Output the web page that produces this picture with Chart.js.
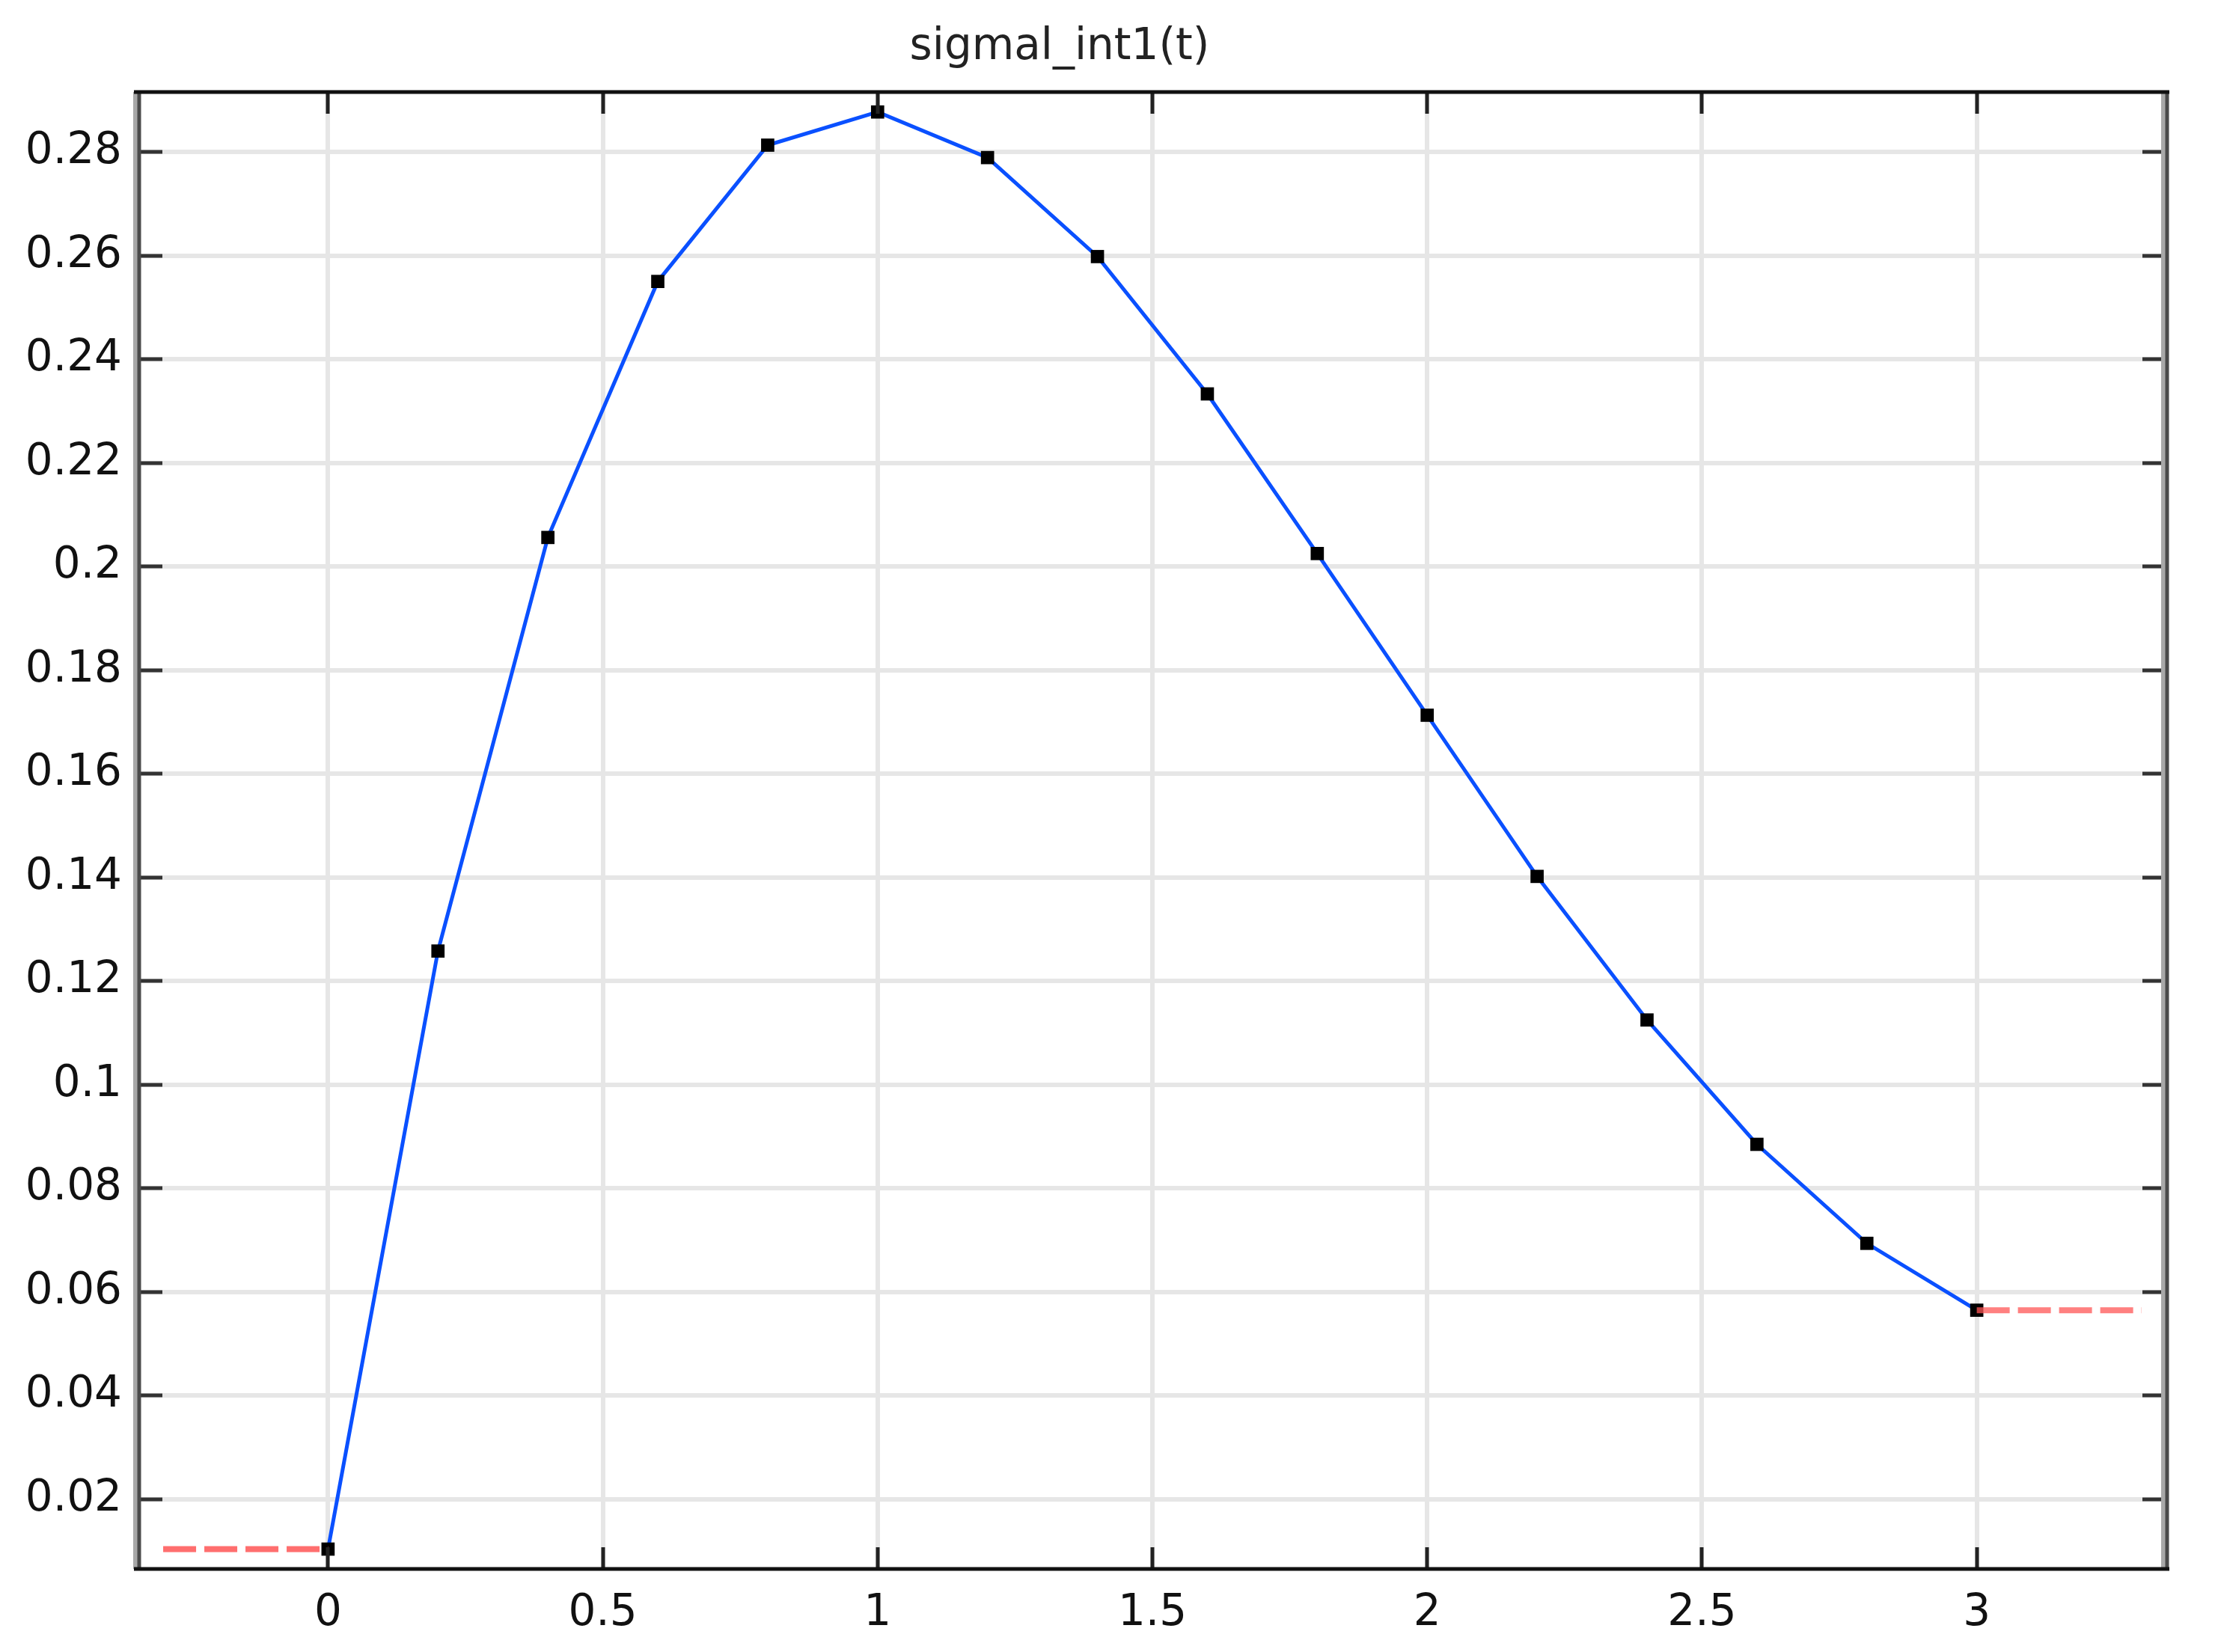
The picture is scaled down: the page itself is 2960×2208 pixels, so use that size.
<!DOCTYPE html>
<html>
<head>
<meta charset="utf-8">
<script src="https://cdn.jsdelivr.net/npm/chart.js@4.4.1/dist/chart.umd.min.js"></script>
<style>
  html, body { margin: 0; padding: 0; background: #fff; }
  #wrap { width: 2960px; height: 2208px; position: relative; }
</style>
</head>
<body>
<div id="wrap"><canvas id="chart"></canvas></div>
<script>
// sampled points of sigmal_int1(t), linear interpolation between them
const tValues = [0, 0.2, 0.4, 0.6, 0.8, 1.0, 1.2, 1.4, 1.6, 1.8, 2.0, 2.2, 2.4, 2.6, 2.8, 3.0];
const sigmaValues = [0.0104, 0.1258, 0.2056, 0.2550, 0.2813, 0.2877, 0.2789, 0.2598, 0.2333, 0.2025,
                     0.1713, 0.1402, 0.1125, 0.0885, 0.0694, 0.0565];

// constant extrapolation outside the interval (red dashed)
const leftExtT = [-0.3, 0];
const rightExtT = [3, 3.3];

// tick labels
const xTicks = [0, 0.5, 1, 1.5, 2, 2.5, 3];
const yTicks = [0.02, 0.04, 0.06, 0.08, 0.1, 0.12, 0.14, 0.16, 0.18, 0.2, 0.22, 0.24, 0.26, 0.28];

const titleText = 'sigmal_int1(t)';
const xRange = [-0.345, 3.345];
const yRange = [0.00657, 0.29155];

const FONT = "'DejaVu Sans', sans-serif";

const mainPoints = tValues.map((t, i) => ({ x: t, y: sigmaValues[i] }));
const leftExt = leftExtT.map(t => ({ x: t, y: sigmaValues[0] }));
const rightExt = rightExtT.map(t => ({ x: t, y: sigmaValues[sigmaValues.length - 1] }));

// title sits a bit left of the canvas centre in the original, so draw it ourselves
const titlePlugin = {
    id: 'plotTitle',
    afterDraw(chart) {
        const ctx = chart.ctx;
        ctx.save();
        ctx.fillStyle = '#222';
        ctx.font = '58px ' + FONT;
        ctx.textAlign = 'center';
        ctx.textBaseline = 'middle';
        ctx.fillText(titleText, 1416, 64);
        ctx.restore();
    }
};

// frame and inward ticks, drawn on top like the original plot
const framePlugin = {
    id: 'frame',
    afterDraw(chart) {
        const { ctx, chartArea: a } = chart;
        const xs = chart.scales.x, ys = chart.scales.y;
        ctx.save();
        ctx.lineCap = 'butt';

        // tick marks
        ctx.strokeStyle = '#222';
        ctx.lineWidth = 5;
        const tl = 29;
        xTicks.forEach(v => {
            const px = Math.round(xs.getPixelForValue(v));
            ctx.beginPath();
            ctx.moveTo(px, a.bottom); ctx.lineTo(px, a.bottom - tl);
            ctx.moveTo(px, a.top); ctx.lineTo(px, a.top + tl);
            ctx.stroke();
        });
        ctx.strokeStyle = '#333';
        yTicks.forEach(v => {
            const py = Math.round(ys.getPixelForValue(v));
            ctx.beginPath();
            ctx.moveTo(a.left, py); ctx.lineTo(a.left + tl + 3, py);
            ctx.moveTo(a.right, py); ctx.lineTo(a.right - tl - 3, py);
            ctx.stroke();
        });

        // left / right sides: grey shade next to a dark line
        ctx.lineWidth = 6;
        ctx.strokeStyle = '#a8a8a8';
        ctx.beginPath();
        ctx.moveTo(a.left - 4, a.top); ctx.lineTo(a.left - 4, a.bottom);
        ctx.moveTo(a.right - 4, a.top); ctx.lineTo(a.right - 4, a.bottom);
        ctx.stroke();
        ctx.lineWidth = 5;
        ctx.strokeStyle = '#4a4a4a';
        ctx.beginPath();
        ctx.moveTo(a.left + 1, a.top); ctx.lineTo(a.left + 1, a.bottom);
        ctx.moveTo(a.right + 1, a.top); ctx.lineTo(a.right + 1, a.bottom);
        ctx.stroke();

        // top / bottom
        ctx.strokeStyle = '#111';
        ctx.lineWidth = 5;
        ctx.beginPath();
        ctx.moveTo(a.left - 6, a.top); ctx.lineTo(a.right + 4, a.top);
        ctx.moveTo(a.left - 6, a.bottom); ctx.lineTo(a.right + 4, a.bottom);
        ctx.stroke();
        ctx.restore();
    }
};

new Chart(document.getElementById('chart'), {
    type: 'line',
    data: {
        datasets: [
            {
                label: 'extrapolation left',
                data: leftExt,
                borderColor: 'rgba(255, 85, 85, 0.85)',
                borderWidth: 8,
                borderDash: [44, 11],
                pointRadius: 0,
                fill: false,
                order: -1
            },
            {
                label: 'extrapolation right',
                data: rightExt,
                borderColor: 'rgba(255, 85, 85, 0.75)',
                borderWidth: 8,
                borderDash: [44, 11],
                pointRadius: 0,
                fill: false,
                order: -1
            },
            {
                label: 'sigmal_int1',
                data: mainPoints,
                borderColor: '#0a50ff',
                borderWidth: 5,
                tension: 0,
                pointStyle: 'rect',
                pointRadius: 12.5,
                pointBackgroundColor: '#000',
                pointBorderColor: '#000',
                pointBorderWidth: 0,
                fill: false,
                order: 0
            }
        ]
    },
    options: {
        responsive: true,
        maintainAspectRatio: false,
        animation: false,
        layout: { padding: { left: 0, right: 65, top: 123, bottom: 0 } },
        plugins: {
            legend: { display: false },
            tooltip: { enabled: false },
            title: { display: false }
        },
        scales: {
            x: {
                type: 'linear',
                min: xRange[0],
                max: xRange[1],
                afterBuildTicks: scale => { scale.ticks = xTicks.map(v => ({ value: v })); },
                afterFit: scale => { scale.height = 111; },
                grid: { color: '#e6e6e6', lineWidth: 6, drawTicks: false },
                border: { display: false },
                ticks: {
                    color: '#111',
                    font: { family: FONT, size: 58 },
                    padding: 25,
                    maxRotation: 0,
                    callback: v => String(v)
                }
            },
            y: {
                type: 'linear',
                min: yRange[0],
                max: yRange[1],
                afterBuildTicks: scale => { scale.ticks = yTicks.map(v => ({ value: v })); },
                afterFit: scale => { scale.width = 185; },
                grid: { color: '#e6e6e6', lineWidth: 6, drawTicks: false },
                border: { display: false },
                ticks: {
                    color: '#111',
                    font: { family: FONT, size: 58 },
                    padding: 22,
                    callback: v => String(v)
                }
            }
        }
    },
    plugins: [framePlugin, titlePlugin]
});
</script>
</body>
</html>
